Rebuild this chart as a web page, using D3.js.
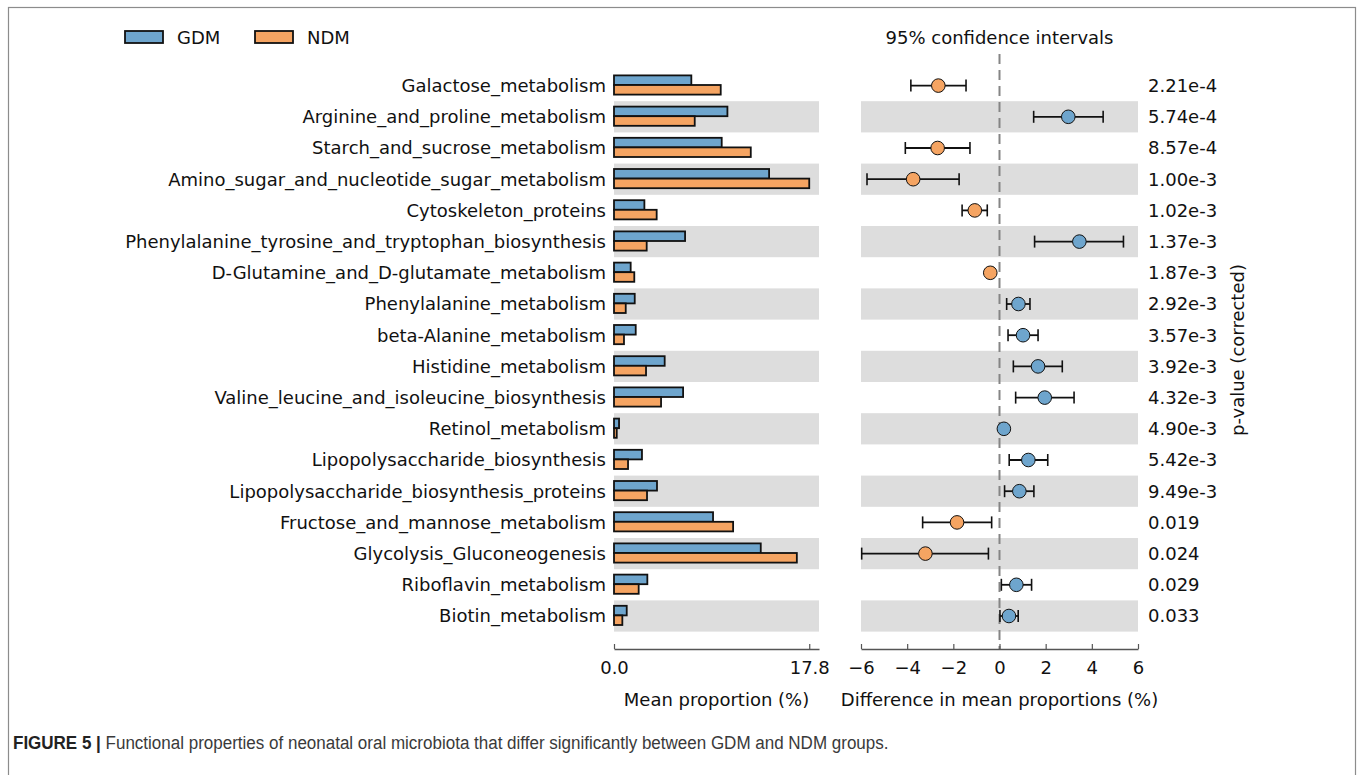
<!DOCTYPE html>
<html>
<head>
<meta charset="utf-8">
<script src="https://cdn.jsdelivr.net/npm/d3@7"></script>
<style>
  html, body { margin: 0; padding: 0; background: #fff; }
  svg { display: block; }
  text { font-family: "DejaVu Sans", sans-serif; fill: #111; }
</style>
</head>
<body>
<svg id="chart" width="1360" height="775"></svg>
<script>
// Pathways (top to bottom)
const categories = [
  "Galactose_metabolism",
  "Arginine_and_proline_metabolism",
  "Starch_and_sucrose_metabolism",
  "Amino_sugar_and_nucleotide_sugar_metabolism",
  "Cytoskeleton_proteins",
  "Phenylalanine_tyrosine_and_tryptophan_biosynthesis",
  "D-Glutamine_and_D-glutamate_metabolism",
  "Phenylalanine_metabolism",
  "beta-Alanine_metabolism",
  "Histidine_metabolism",
  "Valine_leucine_and_isoleucine_biosynthesis",
  "Retinol_metabolism",
  "Lipopolysaccharide_biosynthesis",
  "Lipopolysaccharide_biosynthesis_proteins",
  "Fructose_and_mannose_metabolism",
  "Glycolysis_Gluconeogenesis",
  "Riboflavin_metabolism",
  "Biotin_metabolism"
];

// Mean proportion (%) per group
const gdmMean = [7.05, 10.34, 9.82, 14.14, 2.77, 6.48, 1.52, 1.89, 1.98, 4.62, 6.30, 0.46, 2.55, 3.92, 9.03, 13.38, 3.04, 1.16];
const ndmMean = [9.73, 7.36, 12.47, 17.80, 3.89, 2.98, 1.85, 1.07, 0.91, 2.92, 4.29, 0.25, 1.28, 3.01, 10.86, 16.67, 2.25, 0.76];

// Difference in mean proportions (%) with 95% CI
const diffMean = [-2.65, 2.98, -2.68, -3.74, -1.07, 3.46, -0.40, 0.82, 1.02, 1.67, 1.96, 0.19, 1.25, 0.86, -1.84, -3.21, 0.73, 0.41];
const ciLow    = [-3.84, 1.48, -4.08, -5.74, -1.62, 1.52, -0.52, 0.31, 0.37, 0.60, 0.70, 0.12, 0.42, 0.22, -3.33, -5.97, 0.08, 0.02];
const ciHigh   = [-1.45, 4.49, -1.28, -1.75, -0.53, 5.37, -0.28, 1.32, 1.67, 2.72, 3.23, 0.27, 2.09, 1.49, -0.34, -0.48, 1.39, 0.81];

// Corrected p-values
const pValues = ["2.21e-4", "5.74e-4", "8.57e-4", "1.00e-3", "1.02e-3", "1.37e-3", "1.87e-3", "2.92e-3",
                 "3.57e-3", "3.92e-3", "4.32e-3", "4.90e-3", "5.42e-3", "9.49e-3", "0.019", "0.024", "0.029", "0.033"];

const groups = ["GDM", "NDM"];
const barTicks = [0, 17.8];
const diffTicks = [-6, -4, -2, 0, 2, 4, 6];

const colors = { GDM: "#6ea5cd", NDM: "#f5a462" };
const bandColor = "#dddddd";
const fs = 18;

const svg = d3.select("#chart");

// Figure frame
svg.append("rect")
  .attr("x", 8.5).attr("y", 7.5)
  .attr("width", 1347).attr("height", 800)
  .attr("fill", "none").attr("stroke", "#8c8c8c").attr("stroke-width", 1.2);

// Scales
const y = d3.scaleBand().domain(categories).range([70, 631.6]).padding(0);
const xBar = d3.scaleLinear().domain([0, 17.8 * 1.05]).range([614, 819]);
const xDiff = d3.scaleLinear().domain([-6, 6]).range([861, 1138]);
const axisY = 649;

const rows = categories.map((c, i) => ({
  name: c, i,
  gdm: gdmMean[i], ndm: ndmMean[i],
  diff: diffMean[i], lo: ciLow[i], hi: ciHigh[i], p: pValues[i]
}));

// Alternating background bands in both panels
const bands = svg.append("g");
rows.filter(d => d.i % 2 === 1).forEach(d => {
  bands.append("rect")
    .attr("x", xBar.range()[0]).attr("y", y(d.name))
    .attr("width", xBar.range()[1] - xBar.range()[0]).attr("height", y.bandwidth())
    .attr("fill", bandColor);
  bands.append("rect")
    .attr("x", xDiff.range()[0]).attr("y", y(d.name))
    .attr("width", xDiff.range()[1] - xDiff.range()[0]).attr("height", y.bandwidth())
    .attr("fill", bandColor);
});

// Row labels
svg.append("g").selectAll("text").data(rows).join("text")
  .attr("x", 606)
  .attr("y", d => y(d.name) + y.bandwidth() / 2)
  .attr("dy", "0.36em")
  .attr("text-anchor", "end")
  .attr("font-size", fs)
  .text(d => d.name);

// Grouped horizontal bars
const barH = 9.6;
const barG = svg.append("g");
rows.forEach(d => {
  const c = y(d.name) + y.bandwidth() / 2 - 0.6;
  barG.append("rect")
    .attr("x", xBar(0)).attr("y", c - barH)
    .attr("width", xBar(d.gdm) - xBar(0)).attr("height", barH)
    .attr("fill", colors.GDM).attr("stroke", "#111").attr("stroke-width", 1.8);
  barG.append("rect")
    .attr("x", xBar(0)).attr("y", c)
    .attr("width", xBar(d.ndm) - xBar(0)).attr("height", barH)
    .attr("fill", colors.NDM).attr("stroke", "#111").attr("stroke-width", 1.8);
});

// Zero reference line in the CI panel
svg.append("line")
  .attr("x1", xDiff(0)).attr("x2", xDiff(0))
  .attr("y1", 54).attr("y2", axisY)
  .attr("stroke", "#858585").attr("stroke-width", 2)
  .attr("stroke-dasharray", "10,6");

// Confidence intervals and means
const ciG = svg.append("g");
const capH = 6;
rows.forEach(d => {
  const cy = y(d.name) + y.bandwidth() / 2;
  ciG.append("line")
    .attr("x1", xDiff(d.lo)).attr("x2", xDiff(d.hi))
    .attr("y1", cy).attr("y2", cy)
    .attr("stroke", "#111").attr("stroke-width", 1.8);
  [d.lo, d.hi].forEach(v => {
    ciG.append("line")
      .attr("x1", xDiff(v)).attr("x2", xDiff(v))
      .attr("y1", cy - capH).attr("y2", cy + capH)
      .attr("stroke", "#111").attr("stroke-width", 1.6);
  });
  ciG.append("circle")
    .attr("cx", xDiff(d.diff)).attr("cy", cy).attr("r", 6.8)
    .attr("fill", d.diff < 0 ? colors.NDM : colors.GDM)
    .attr("stroke", "#111").attr("stroke-width", 1);
});

// p-values
svg.append("g").selectAll("text").data(rows).join("text")
  .attr("x", 1148)
  .attr("y", d => y(d.name) + y.bandwidth() / 2)
  .attr("dy", "0.36em")
  .attr("font-size", fs)
  .text(d => d.p);

svg.append("text")
  .attr("transform", "translate(1244,350) rotate(-90)")
  .attr("text-anchor", "middle")
  .attr("font-size", fs)
  .text("p-value (corrected)");

// Axes
function styleAxis(g) {
  g.selectAll(".domain").attr("stroke", "#555").attr("stroke-width", 1.5);
  g.selectAll(".tick line").attr("stroke", "#555").attr("stroke-width", 1.2);
  g.selectAll(".tick text").attr("font-size", fs).attr("font-family", "DejaVu Sans").attr("fill", "#111").attr("dy", "1.22em");
}

svg.append("g")
  .attr("transform", `translate(0,${axisY})`)
  .call(d3.axisBottom(xBar).tickValues(barTicks).tickFormat(d3.format(".1f")).tickSizeInner(-5).tickSizeOuter(0))
  .call(styleAxis);

svg.append("g")
  .attr("transform", `translate(0,${axisY})`)
  .call(d3.axisBottom(xDiff).tickValues(diffTicks).tickFormat(d => d < 0 ? "\u2212" + Math.abs(d) : String(d)).tickSizeInner(-5).tickSizeOuter(0))
  .call(styleAxis);

svg.append("text")
  .attr("x", (xBar.range()[0] + xBar.range()[1]) / 2).attr("y", 706)
  .attr("text-anchor", "middle").attr("font-size", fs)
  .text("Mean proportion (%)");

svg.append("text")
  .attr("x", xDiff(0)).attr("y", 706)
  .attr("text-anchor", "middle").attr("font-size", fs)
  .text("Difference in mean proportions (%)");

svg.append("text")
  .attr("x", xDiff(0)).attr("y", 44)
  .attr("text-anchor", "middle").attr("font-size", fs)
  .text("95% confidence intervals");

// Legend
const legend = svg.append("g");
groups.forEach((g, i) => {
  const lx = 125 + i * 130;
  legend.append("rect")
    .attr("x", lx).attr("y", 31).attr("width", 38).attr("height", 12)
    .attr("fill", colors[g]).attr("stroke", "#111").attr("stroke-width", 1.8);
  legend.append("text")
    .attr("x", lx + 52).attr("y", 44)
    .attr("font-size", fs)
    .text(g);
});

// Caption
const caption = svg.append("text")
  .attr("x", 0).attr("y", 0)
  .attr("font-size", 18)
  .style("font-family", "'Liberation Sans', Arial, sans-serif");
caption.append("tspan").attr("font-weight", "bold").attr("fill", "#222").text("FIGURE 5 | ");
caption.append("tspan").attr("fill", "#3a3a3a")
  .text("Functional properties of neonatal oral microbiota that differ significantly between GDM and NDM groups.");
const capW = caption.node().getComputedTextLength();
const sx = 876 / capW;
caption.attr("transform", `translate(13,749) scale(${sx},1)`);
</script>
</body>
</html>
